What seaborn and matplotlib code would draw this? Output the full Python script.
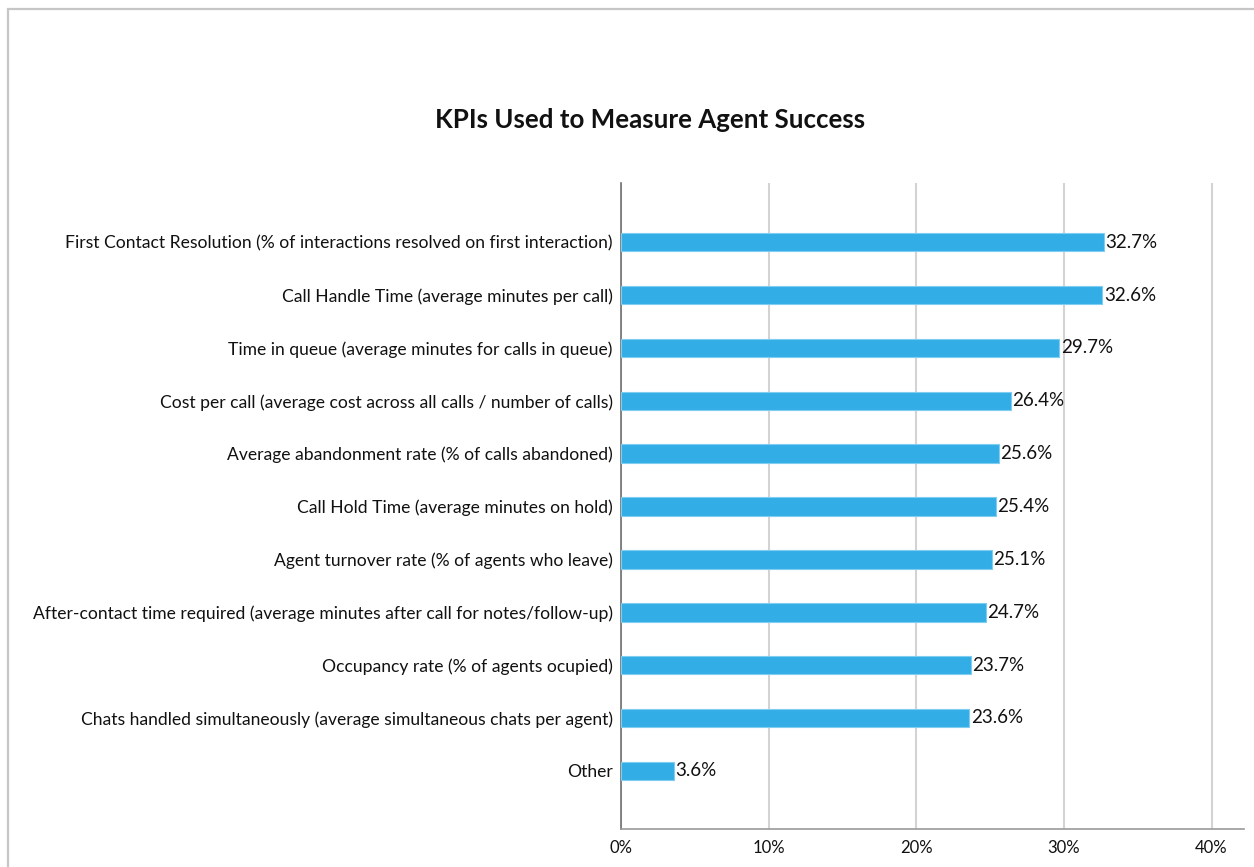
import matplotlib
matplotlib.use("Agg")
import matplotlib.pyplot as plt
from matplotlib.patches import Rectangle
from matplotlib.ticker import FuncFormatter
import seaborn as sns
import pandas as pd

categories = [
    "First Contact Resolution (% of interactions resolved on first interaction)",
    "Call Handle Time (average minutes per call)",
    "Time in queue (average minutes for calls in queue)",
    "Cost per call (average cost across all calls / number of calls)",
    "Average abandonment rate (% of calls abandoned)",
    "Call Hold Time (average minutes on hold)",
    "Agent turnover rate (% of agents who leave)",
    "After-contact time required (average minutes after call for notes/follow-up)",
    "Occupancy rate (% of agents ocupied)",
    "Chats handled simultaneously (average simultaneous chats per agent)",
    "Other",
]
values = [32.7, 32.6, 29.7, 26.4, 25.6, 25.4, 25.1, 24.7, 23.7, 23.6, 3.6]
tick_values = [0, 10, 20, 30, 40]

df = pd.DataFrame({"kpi": categories, "share": values})

sns.set_theme(style="white")
plt.rcParams["font.family"] = ["Lato", "DejaVu Sans"]

W, H = 1254, 867
fig = plt.figure(figsize=(W / 100, H / 100), dpi=100)
ax = fig.add_axes([621 / W, 1 - 829 / H, (1244 - 621) / W, (829 - 183) / H])

# outer chart frame (runs off the right and bottom edges)
fig.patches.append(Rectangle((8 / W, -0.05), 1.2, (H - 9) / H + 0.05,
                             transform=fig.transFigure, fill=False,
                             edgecolor="#c6c6c6", linewidth=1.6, zorder=0))

sns.barplot(data=df, x="share", y="kpi", orient="h", color="#32ade6",
            saturation=1, width=0.35, edgecolor="#7fcdf0", linewidth=0.8,
            ax=ax, zorder=3)

ax.set_xlim(0, 42.2)
ax.set_ylim(len(categories) - 1 + 1.1, -1.12)
ax.set_xticks(tick_values)
ax.xaxis.set_major_formatter(FuncFormatter(lambda v, p: f"{v:.0f}%"))
ax.grid(axis="x", color="#d3d3d3", linewidth=1.5, zorder=0)
ax.grid(axis="y", visible=False)
ax.set_xlabel("")
ax.set_ylabel("")

for side in ("top", "right"):
    ax.spines[side].set_visible(False)
ax.spines["left"].set_color("#707070")
ax.spines["left"].set_linewidth(1.2)
ax.spines["bottom"].set_color("#9a9a9a")
ax.spines["bottom"].set_linewidth(1.2)

ax.tick_params(axis="y", length=0, pad=6, labelsize=12.6, labelcolor="#111111")
ax.tick_params(axis="x", length=0, pad=8, labelsize=12, labelcolor="#111111")

for i, v in enumerate(values):
    ax.text(v + 0.1, i, f"{v:.1f}%", va="center", ha="left",
            fontsize=13.5, color="#111111", zorder=4)

fig.text(650 / W, 1 - 120 / H, "KPIs Used to Measure Agent Success",
         ha="center", va="center", fontsize=18.6, fontweight="bold",
         color="#111111")

fig.savefig("out.png", dpi=100, facecolor="white")
